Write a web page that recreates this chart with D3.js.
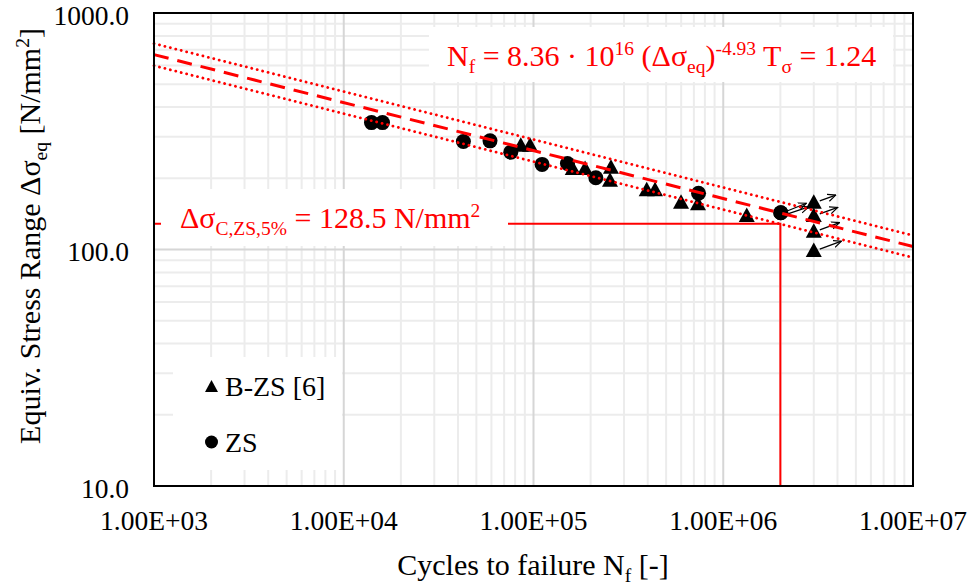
<!DOCTYPE html>
<html><head><meta charset="utf-8">
<script src="https://cdn.jsdelivr.net/npm/d3@7"></script>
<style>
html,body{margin:0;padding:0;background:#fff;}
</style></head>
<body><svg id="chart" width="974" height="587" font-family="'Liberation Serif', 'DejaVu Serif', serif"></svg>
<script>
// ---- data ----
const xTickValues = [1e3, 1e4, 1e5, 1e6, 1e7];
const xTickLabels = ["1.00E+03", "1.00E+04", "1.00E+05", "1.00E+06", "1.00E+07"];
const yTickValues = [10, 100, 1000];
const yTickLabels = ["10.0", "100.0", "1000.0"];

// ZS series (circles)
const zsN = [14000, 16000, 42700, 59000, 75900, 111000, 151000, 213000, 741000, 2010000, 2010000];
const zsS = [344, 344, 286, 288, 258, 229, 231, 201, 173, 143, 143];
const zsRunout = [0, 0, 0, 0, 0, 0, 0, 0, 0, 1, 1];

// B-ZS [6] series (triangles)
const bzsN = [85700, 95900, 161000, 187000, 256000, 253000, 395000, 437000, 599000, 736000, 1330000, 3000000, 3000000, 3000000, 3000000];
const bzsS = [277, 277, 221, 221, 224, 197, 180, 180, 159, 157, 140, 159, 140, 120, 99.5];
const bzsRunout = [0, 0, 0, 0, 0, 0, 0, 0, 0, 0, 0, 1, 1, 1, 1];

// regression N = a * S^-k, scatter T
const fitA = 8.36e16, fitK = 4.93, fitT = 1.24;
const charS = 128.5, charN = 2e6;

// ---- layout ----
const FONT = "'Liberation Serif', 'DejaVu Serif', serif";
const svg = d3.select("#chart");
const L = 154, R = 913, T = 13, B = 486;
const x = d3.scaleLog().domain([1e3, 1e7]).range([L, R]);
const y = d3.scaleLog().domain([10, 1000]).range([B, T]);
const red = "#ff0000";

// gridlines
const minorX = [], minorY = [];
for (let e = 3; e < 7; e++) for (let m = 2; m <= 9; m++) minorX.push(m * Math.pow(10, e));
for (let e = 1; e < 3; e++) for (let m = 2; m <= 9; m++) minorY.push(m * Math.pow(10, e));
const g = svg.append("g");
g.selectAll(".mx").data(minorX).enter().append("line")
  .attr("x1", d => x(d)).attr("x2", d => x(d)).attr("y1", T).attr("y2", B)
  .attr("stroke", "#ececec").attr("stroke-width", 2);
g.selectAll(".my").data(minorY).enter().append("line")
  .attr("y1", d => y(d)).attr("y2", d => y(d)).attr("x1", L).attr("x2", R)
  .attr("stroke", "#ececec").attr("stroke-width", 2);
g.selectAll(".Mx").data(xTickValues.slice(1, -1)).enter().append("line")
  .attr("x1", d => x(d)).attr("x2", d => x(d)).attr("y1", T).attr("y2", B)
  .attr("stroke", "#d6d6d6").attr("stroke-width", 2);
g.selectAll(".My").data(yTickValues.slice(1, -1)).enter().append("line")
  .attr("y1", d => y(d)).attr("y2", d => y(d)).attr("x1", L).attr("x2", R)
  .attr("stroke", "#d6d6d6").attr("stroke-width", 2);

// markers
const triPath = "M0,-7.5 L8,7 L-8,7 Z";
const zs = zsN.map((n, i) => ({n, s: zsS[i], r: zsRunout[i]}));
const bzs = bzsN.map((n, i) => ({n, s: bzsS[i], r: bzsRunout[i]}));
svg.append("g").selectAll("path").data(bzs).enter().append("path")
  .attr("d", triPath).attr("transform", d => `translate(${x(d.n)},${y(d.s)})`).attr("fill", "#000");
svg.append("g").selectAll("circle").data(zs).enter().append("circle")
  .attr("cx", d => x(d.n)).attr("cy", d => y(d.s)).attr("r", 7.5).attr("fill", "#000");

// runout arrows
const defs = svg.append("defs");
defs.append("marker").attr("id", "ah").attr("viewBox", "0 0 10 10").attr("refX", 9).attr("refY", 5)
  .attr("markerWidth", 9).attr("markerHeight", 9).attr("markerUnits", "userSpaceOnUse").attr("orient", "auto")
  .append("path").attr("d", "M0,1 L9,5 L0,9").attr("fill", "none").attr("stroke", "#000").attr("stroke-width", 1.3);
const arrows = [];
zs.filter(d => d.r).forEach((d, i) => arrows.push({x0: x(d.n) + 7, y0: y(d.s) - 2 + i * 3, len: 20 + i * 2, ang: 22 - i * 4}));
bzs.filter(d => d.r).forEach((d, i) => arrows.push({x0: x(d.n) + 6, y0: y(d.s) - 1, len: 17 + i * 2, ang: 20}));
svg.append("g").selectAll("line").data(arrows).enter().append("line")
  .attr("x1", d => d.x0).attr("y1", d => d.y0)
  .attr("x2", d => d.x0 + d.len * Math.cos(d.ang * Math.PI / 180))
  .attr("y2", d => d.y0 - d.len * Math.sin(d.ang * Math.PI / 180))
  .attr("stroke", "#000").attr("stroke-width", 1.3).attr("marker-end", "url(#ah)");

// regression and scatter band
const fitS = (n, f) => Math.pow(fitA / n, 1 / fitK) * f;
const ends = [1e3, 1e7];
const lineGen = f => d3.line().x(d => x(d)).y(d => y(fitS(d, f)))(ends);
svg.append("path").attr("d", lineGen(1)).attr("stroke", red).attr("stroke-width", 3)
  .attr("fill", "none").attr("stroke-dasharray", "15,9");
[Math.sqrt(fitT), 1 / Math.sqrt(fitT)].forEach(f => {
  svg.append("path").attr("d", lineGen(f)).attr("stroke", red).attr("stroke-width", 2.8)
    .attr("fill", "none").attr("stroke-dasharray", "0.1,5.5").attr("stroke-linecap", "round");
});

// characteristic lines
svg.append("path")
  .attr("d", `M${L},${y(charS)} H${x(charN)} V${B}`)
  .attr("stroke", red).attr("stroke-width", 2).attr("fill", "none");

// white text boxes
svg.append("rect").attr("x", 429).attr("y", 27).attr("width", 464).attr("height", 55).attr("fill", "#fff");
svg.append("rect").attr("x", 161).attr("y", 189).attr("width", 347).attr("height", 57).attr("fill", "#fff");
svg.append("rect").attr("x", 173).attr("y", 357).attr("width", 169).attr("height", 113).attr("fill", "#fff");

// plot border
svg.append("rect").attr("x", L).attr("y", T).attr("width", R - L).attr("height", B - T)
  .attr("fill", "none").attr("stroke", "#000").attr("stroke-width", 2);

// tick labels
svg.append("g").selectAll("text").data(xTickValues).enter().append("text")
  .attr("x", d => x(d)).attr("y", B + 44).attr("text-anchor", "middle").attr("font-family", FONT)
  .attr("font-size", 27.5).attr("fill", "#000").text((d, i) => xTickLabels[i]);
svg.append("g").selectAll("text").data(yTickValues).enter().append("text")
  .attr("x", 129).attr("y", d => y(d) + 11.5).attr("text-anchor", "end").attr("font-family", FONT)
  .attr("font-size", 27.5).attr("fill", "#000").text((d, i) => yTickLabels[i]);

// rich text helper
function rich(parent, parts, attrs) {
  const t = parent.append("text").attr("font-family", FONT);
  Object.entries(attrs).forEach(([k, v]) => t.attr(k, v));
  let shift = 0;
  parts.forEach(p => {
    const [str, kind] = p;
    const target = kind === "sub" ? 7 : kind === "sup" ? -11 : 0;
    const ts = t.append("tspan").text(str).attr("dy", target - shift);
    if (kind) ts.attr("font-size", "65%");
    shift = target;
  });
  return t;
}

// axis titles
rich(svg, [["Cycles to failure N"], ["f", "sub"], [" [-]"]],
  {x: 533, y: 575, "text-anchor": "middle", "font-size": 30, fill: "#000"});
rich(svg, [["Equiv. Stress Range Δσ"], ["eq", "sub"], [" [N/mm"], ["2", "sup"], ["]"]],
  {x: 0, y: 0, "text-anchor": "middle", "font-size": 30, fill: "#000", transform: "translate(40,236) rotate(-90)"});

// equation
rich(svg, [["N"], ["f", "sub"], [" = 8.36 · 10"], ["16", "sup"], [" (Δσ"], ["eq", "sub"], [")"], ["-4.93", "sup"], [" T"], ["σ", "sub"], [" = 1.24"]],
  {x: 447, y: 66, "font-size": 30, fill: red});
// characteristic value
rich(svg, [["Δσ"], ["C,ZS,5%", "sub"], [" = 128.5 N/mm"], ["2", "sup"]],
  {x: 180, y: 228, "font-size": 30, fill: red});

// legend
const lg = svg.append("g");
lg.append("path").attr("d", "M0,-6 L6.5,6 L-6.5,6 Z").attr("transform", "translate(211.5,386)").attr("fill", "#000");
lg.append("circle").attr("cx", 211.5).attr("cy", 442).attr("r", 6.5).attr("fill", "#000");
lg.append("text").attr("x", 225).attr("y", 396).attr("font-family", FONT).attr("font-size", 28).attr("fill", "#000").text("B-ZS [6]");
lg.append("text").attr("x", 225).attr("y", 452).attr("font-family", FONT).attr("font-size", 28).attr("fill", "#000").text("ZS");
</script></body></html>
